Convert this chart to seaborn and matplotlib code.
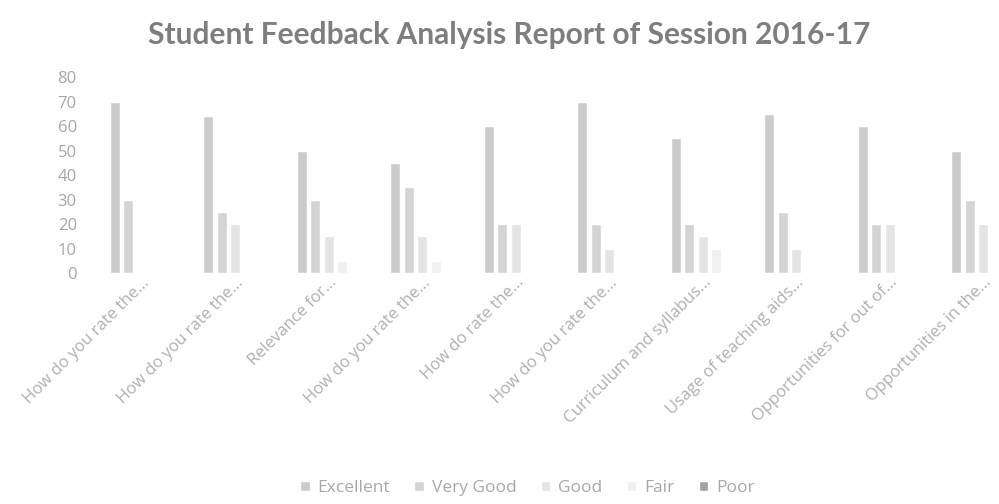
import pandas as pd
import matplotlib
matplotlib.use("Agg")
import matplotlib.pyplot as plt
import matplotlib.transforms as mtransforms
import seaborn as sns

# Chart data
questions = [
    "How do you rate the...",
    "How do you rate the...",
    "Relevance for...",
    "How do you rate the...",
    "How do rate the...",
    "How do you rate the...",
    "Curriculum and syllabus...",
    "Usage of teaching aids...",
    "Opportunities for out of...",
    "Opportunities in the...",
]
ratings = ["Excellent", "Very Good", "Good", "Fair", "Poor"]
excellent = [70, 64, 50, 45, 60, 70, 55, 65, 60, 50]
very_good = [30, 25, 30, 35, 20, 20, 20, 25, 20, 30]
good = [0, 20, 15, 15, 20, 10, 15, 10, 20, 20]
fair = [0, 0, 5, 5, 0, 0, 10, 0, 0, 0]
poor = [0, 0, 0, 0, 0, 0, 0, 0, 0, 0]
colors = ["#cbcbcb", "#d4d4d4", "#e4e4e4", "#f0f0f0", "#a3a3a3"]

rows = []
for i, q in enumerate(questions):
    for name, vals in zip(ratings, [excellent, very_good, good, fair, poor]):
        rows.append({"slot": i, "rating": name, "value": vals[i]})
df = pd.DataFrame(rows)

sns.set_style("white")
plt.rcParams["font.family"] = ["Open Sans", "DejaVu Sans"]

fig = plt.figure(figsize=(9.99, 5.04), dpi=100)
ax = fig.add_axes([0.095, 0.458, 0.936, 0.389])

sns.barplot(data=df, x="slot", y="value", hue="rating", hue_order=ratings,
            palette=colors, width=0.72, gap=0.26, ax=ax, legend=True)

ax.set_ylim(0, 80)
ax.set_yticks(range(0, 81, 10))
ax.set_xlim(-0.5, len(questions) - 0.5)
ax.set_xticks(range(len(questions)))
ax.set_xticklabels(questions, rotation=45, ha="right", rotation_mode="anchor",
                   fontsize=12, color="#b0b0b0")
# Excel lets the rotated labels end a little right of the category centre
shift = mtransforms.ScaledTranslation(15 / 100, 0, fig.dpi_scale_trans)
for lbl in ax.get_xticklabels():
    lbl.set_transform(lbl.get_transform() + shift)
ax.tick_params(axis="y", labelsize=12, labelcolor="#a6a6a6", length=0, pad=13)
ax.tick_params(axis="x", length=0, pad=1)
ax.set_xlabel("")
ax.set_ylabel("")
sns.despine(ax=ax, left=True, bottom=True)

fig.text(0.51, 0.93, "Student Feedback Analysis Report of Session 2016-17",
         ha="center", va="center", fontsize=21.5, fontweight="bold",
         color="#7e7e7e", family=["Lato", "DejaVu Sans"])

handles, labels = ax.get_legend_handles_labels()
ax.get_legend().remove()
fig.legend(handles, labels, loc="center", bbox_to_anchor=(0.528, 0.032), ncol=5,
           frameon=False, fontsize=12.5, labelcolor="#a8a8a8", handlelength=0.55,
           handleheight=0.55, handletextpad=0.45, columnspacing=1.4)

fig.savefig("out.png", dpi=100)
